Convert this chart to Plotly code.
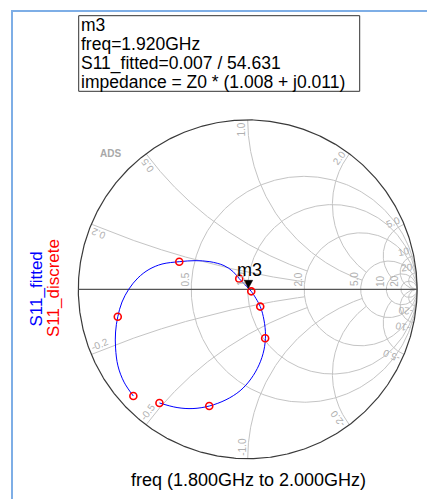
import numpy as np
import plotly.graph_objects as go

# ---------------- data (S11 reflection coefficient, real / imag) ----------------
disc_re = [-0.675, -0.767, -0.404, -0.050, 0.021, 0.074, 0.103, -0.227, -0.521]
disc_im = [-0.630, -0.162, 0.163, 0.063, -0.012, -0.102, -0.289, -0.689, -0.671]

fit_re = [-0.675, -0.730, -0.766, -0.780, -0.780, -0.767, -0.742, -0.701, -0.648,
          -0.583, -0.506, -0.404, -0.311, -0.223, -0.140, -0.087, -0.050, 0.004,
          0.021, 0.074, 0.096, 0.105, 0.096, 0.067, 0.019, -0.045, -0.128,
          -0.227, -0.323, -0.417, -0.521]
fit_im = [-0.630, -0.548, -0.452, -0.347, -0.252, -0.162, -0.075, 0.002, 0.067,
          0.117, 0.149, 0.163, 0.169, 0.163, 0.140, 0.105, 0.063, 0.006,
          -0.012, -0.102, -0.181, -0.270, -0.358, -0.446, -0.529, -0.599, -0.652,
          -0.689, -0.704, -0.698, -0.671]

m3_name = "m3"
m3_freq = "1.920GHz"
m3_mag, m3_ang = 0.007, 54.631
m3_zr, m3_zx = 1.008, 0.011
sweep = "freq (1.800GHz to 2.000GHz)"

r_circles = [0.5, 1.0, 2.0, 5.0, 10.0, 20.0]
r_labels = ["0.5", "1.0", "2.0", "5.0", "10", "20"]
x_arcs = [0.2, 0.5, 1.0, 2.0, 5.0, 10.0, 20.0]
x_labels = ["0.2", "0.5", "1.0", "2.0", "5.0", "10", "20"]
# resistance value where each reactance arc stops
x_stop = [2.0, 2.0, 5.0, 5.0, 10.0, np.inf, np.inf]

# ---------------- page geometry ----------------
W, H = 427, 499
CX, CY, R = 247.7, 289.3, 169.4     # unit circle centre / radius in px


def dx(px):
    return (px - CX) / R


def dy(py):
    return (CY - py) / R


def gam(z):
    return (z - 1) / (z + 1)


def r_curve(r, x1=-np.inf, x2=np.inf, n=500):
    t = np.linspace(np.arctan(x1), np.arctan(x2), n)
    g = gam(r + 1j * np.tan(t))
    return g.real, g.imag


def x_curve(x, r1=0.0, r2=np.inf, n=500):
    t = np.linspace(np.arctan(r1), np.arctan(r2), n)
    g = gam(np.tan(t) + 1j * x)
    return g.real, g.imag


CW = {str(d): 0.556 for d in range(10)}
CW.update({".": 0.278, "-": 0.333})


def text_len(s, size=10):
    return sum(CW[c] for c in s) * size


GRID = "#c4c4c4"
LBL = "#b0b0b0"
FONT = "Liberation Sans, Arial, sans-serif"

fig = go.Figure()

# grid: resistance circles
for r in r_circles:
    gx, gy = r_curve(r)
    fig.add_trace(go.Scatter(x=gx, y=gy, mode="lines",
                             line=dict(color=GRID, width=1), hoverinfo="skip"))
# grid: reactance arcs (both signs)
for x, rs in zip(x_arcs, x_stop):
    for sgn in (1, -1):
        gx, gy = x_curve(sgn * x, 0.0, rs)
        fig.add_trace(go.Scatter(x=gx, y=gy, mode="lines",
                                 line=dict(color=GRID, width=1), hoverinfo="skip"))

# outer circle and real axis
th = np.linspace(0, 2 * np.pi, 721)
fig.add_trace(go.Scatter(x=np.cos(th), y=np.sin(th), mode="lines",
                         line=dict(color="#3a3a3a", width=1.2), hoverinfo="skip"))
fig.add_trace(go.Scatter(x=[-1, 1], y=[0, 0], mode="lines",
                         line=dict(color="#555555", width=1.3), hoverinfo="skip"))

# fitted curve (m3 point sits on it) and discrete samples
m3_re = m3_mag * np.cos(np.radians(m3_ang))
m3_im = m3_mag * np.sin(np.radians(m3_ang))
fig.add_trace(go.Scatter(x=fit_re, y=fit_im, mode="lines",
                         line=dict(color="#0000ff", width=1, shape="spline", smoothing=1.0),
                         hoverinfo="skip"))
fig.add_trace(go.Scatter(x=disc_re, y=disc_im, mode="markers",
                         marker=dict(symbol="circle-open", size=7, color="#ff0000",
                                     line=dict(width=1.6)),
                         hoverinfo="skip"))

ann = []

# resistance labels along the real axis
for r, t in zip(r_circles, r_labels):
    L = text_len(t)
    bx = (r - 1) / (r + 1)
    ann.append(dict(x=bx - 6 / R, y=(3 + L / 2) / R, text=t, textangle=-90,
                    showarrow=False, font=dict(family=FONT, size=10, color=LBL)))

# reactance labels around the rim
for x, t in zip(x_arcs, x_labels):
    for sgn in (1, -1):
        txt = t if sgn > 0 else "-" + t
        g = gam(1j * sgn * x)
        a = np.angle(g)
        phi = a if sgn > 0 else a + np.pi
        up = phi + np.pi / 2
        L = text_len(txt)
        px_ = g.real + ((3 + L / 2) * -np.cos(a) + 6 * np.cos(up)) / R
        py_ = g.imag + ((3 + L / 2) * -np.sin(a) + 6 * np.sin(up)) / R
        ang = -np.degrees(phi)
        ang = (ang + 180) % 360 - 180
        ann.append(dict(x=px_, y=py_, text=txt, textangle=ang, showarrow=False,
                        font=dict(family=FONT, size=10, color=LBL)))

# ADS watermark
ann.append(dict(x=dx(110.8), y=dy(153), text="<b>ADS</b>", showarrow=False,
                font=dict(family=FONT, size=10, color="#a8a8a8")))

# marker label
ann.append(dict(x=m3_re, y=m3_im, text=m3_name, showarrow=False, yshift=18.5, xshift=1.3,
                font=dict(family=FONT, size=18, color="black")))

# marker readout box
box_lines = [m3_name,
             f"freq={m3_freq}",
             f"S11_fitted={m3_mag:.3f} / {m3_ang:.3f}",
             f"impedance = Z0 * ({m3_zr:.3f} + j{m3_zx:.3f})"]
for txt, yc in zip(box_lines, [25.1, 44.4, 63.0, 81.6]):
    ann.append(dict(x=dx(79.5), y=dy(yc), text=txt, showarrow=False, xanchor="left",
                    yanchor="middle", borderpad=0,
                    font=dict(family=FONT, size=17.5, color="black")))

# trace names, rotated on the left
ann.append(dict(x=dx(35.5), y=dy(289), text="S11_fitted", textangle=-90, showarrow=False,
                font=dict(family=FONT, size=17, color="#0000ff")))
ann.append(dict(x=dx(53), y=dy(288), text="S11_discrete", textangle=-90, showarrow=False,
                font=dict(family=FONT, size=17, color="#ff0000")))

# sweep label
ann.append(dict(x=dx(248.5), y=dy(479.5), text=sweep, showarrow=False,
                font=dict(family=FONT, size=18, color="black")))

# marker triangle: tip on the m3 point
tri = (f"M {m3_re} {m3_im} "
       f"L {m3_re - 4.3 / R} {m3_im + 8 / R} "
       f"L {m3_re + 4.3 / R} {m3_im + 8 / R} Z")

shapes = [
    dict(type="path", xref="x", yref="y", path=tri, fillcolor="black",
         line=dict(color="black", width=0.5)),
    dict(type="rect", xref="paper", yref="paper", x0=78.7 / W, x1=359.7 / W,
         y0=1 - 91.3 / H, y1=1 - 15.7 / H, line=dict(color="#333333", width=1)),
    dict(type="line", xref="paper", yref="paper", x0=11 / W, x1=1, y0=1 - 11 / H, y1=1 - 11 / H,
         line=dict(color="#7eaee6", width=2)),
    dict(type="line", xref="paper", yref="paper", x0=12 / W, x1=12 / W, y0=0, y1=1 - 10 / H,
         line=dict(color="#7eaee6", width=2)),
]

fig.update_layout(
    width=W, height=H, autosize=False,
    margin=dict(l=0, r=0, t=0, b=0, pad=0),
    paper_bgcolor="white", plot_bgcolor="white",
    showlegend=False, hovermode=False,
    xaxis=dict(range=[dx(0), dx(W)], visible=False, fixedrange=True),
    yaxis=dict(range=[dy(H), dy(0)], visible=False, fixedrange=True),
    annotations=ann, shapes=shapes,
)

fig.write_html("out.html", config={"displayModeBar": False})
